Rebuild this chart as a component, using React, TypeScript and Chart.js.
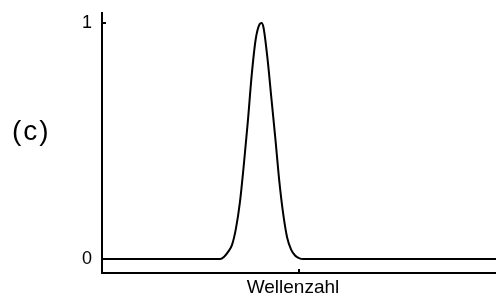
import React, { useEffect, useRef } from "react";
import { Chart, registerables } from "chart.js";

Chart.register(...registerables);

// Wavenumber (arbitrary units, axis spans 0..100) and normalised intensity
const wavenumber = [
  0, 30, 31, 32, 33, 34, 35, 36, 37, 38, 39, 40, 40.5, 41, 42, 43, 44, 45, 46, 47, 48, 49, 50, 51, 100,
];
const intensity = [
  0, 0, 0.01, 0.03, 0.06, 0.13, 0.24, 0.4, 0.58, 0.78, 0.93, 0.995, 1.0, 0.98, 0.85, 0.68, 0.51, 0.33,
  0.19, 0.09, 0.04, 0.015, 0.004, 0, 0,
];
const yTickValues = [0, 1];
const xTickValues = [50];
const xAxisLabel = "Wellenzahl";
const panelLabel = "(c)";

const FONT = "'Liberation Sans', Arial, sans-serif";

export default function App() {
  const ref = useRef<HTMLCanvasElement | null>(null);

  useEffect(() => {
    const canvas = ref.current;
    if (!canvas) return;

    const inwardTicks = {
      id: "inwardTicks",
      afterDraw(chart: any) {
        const { ctx, chartArea, scales } = chart;
        ctx.save();
        ctx.strokeStyle = "#000";
        ctx.lineWidth = 2;
        ctx.beginPath();
        for (const v of yTickValues) {
          const py = Math.round(scales.y.getPixelForValue(v));
          ctx.moveTo(chartArea.left, py);
          ctx.lineTo(chartArea.left + 4, py);
        }
        for (const v of xTickValues) {
          const px = Math.round(scales.x.getPixelForValue(v));
          ctx.moveTo(px, chartArea.bottom);
          ctx.lineTo(px, chartArea.bottom - 4);
        }
        ctx.stroke();
        // panel label
        ctx.fillStyle = "#000";
        ctx.font = `28px ${FONT}`;
        ctx.textBaseline = "middle";
        ctx.textAlign = "left";
        try {
          (ctx as any).letterSpacing = "2px";
        } catch (e) {}
        ctx.fillText(panelLabel, 12, 132);
        ctx.restore();
      },
    };

    const chart = new Chart(canvas, {
      type: "line",
      data: {
        datasets: [
          {
            data: wavenumber.map((x, i) => ({ x, y: intensity[i] })),
            borderColor: "#000",
            borderWidth: 2,
            pointRadius: 0,
            cubicInterpolationMode: "monotone",
            fill: false,
          },
        ],
      },
      options: {
        animation: false,
        responsive: false,
        devicePixelRatio: 1,
        layout: { padding: { top: 13, left: 0, right: 0, bottom: 0 } },
        plugins: { legend: { display: false }, tooltip: { enabled: false } },
        scales: {
          x: {
            type: "linear",
            min: 0,
            max: 100,
            afterBuildTicks(scale: any) {
              scale.ticks = xTickValues.map((value) => ({ value }));
            },
            afterFit(scale: any) {
              scale.height = 30;
              scale.paddingLeft = 0;
              scale.paddingRight = 0;
            },
            grid: { display: false, drawTicks: false },
            border: { display: true, color: "#000", width: 2 },
            ticks: {
              callback: () => xAxisLabel,
              color: "#000",
              font: { family: FONT, size: 19 },
              padding: 3,
              labelOffset: -6,
              maxRotation: 0,
              autoSkip: false,
            },
          },
          y: {
            type: "linear",
            min: -14 / 236,
            max: 1 + 10 / 236,
            afterBuildTicks(scale: any) {
              scale.ticks = yTickValues.map((value) => ({ value }));
            },
            afterFit(scale: any) {
              scale.width = 102;
              scale.paddingTop = 0;
              scale.paddingBottom = 0;
            },
            grid: { display: false, drawTicks: false },
            border: { display: true, color: "#000", width: 2 },
            ticks: {
              color: "#000",
              font: { family: FONT, size: 18 },
              padding: 10,
              autoSkip: false,
            },
          },
        },
      },
      plugins: [inwardTicks],
    } as any);

    return () => chart.destroy();
  }, []);

  return (
    <div style={{ position: "absolute", left: 0, top: 0, width: 496, height: 303, background: "#fff" }}>
      <canvas ref={ref} width={496} height={303} style={{ display: "block", width: 496, height: 303 }} />
    </div>
  );
}
